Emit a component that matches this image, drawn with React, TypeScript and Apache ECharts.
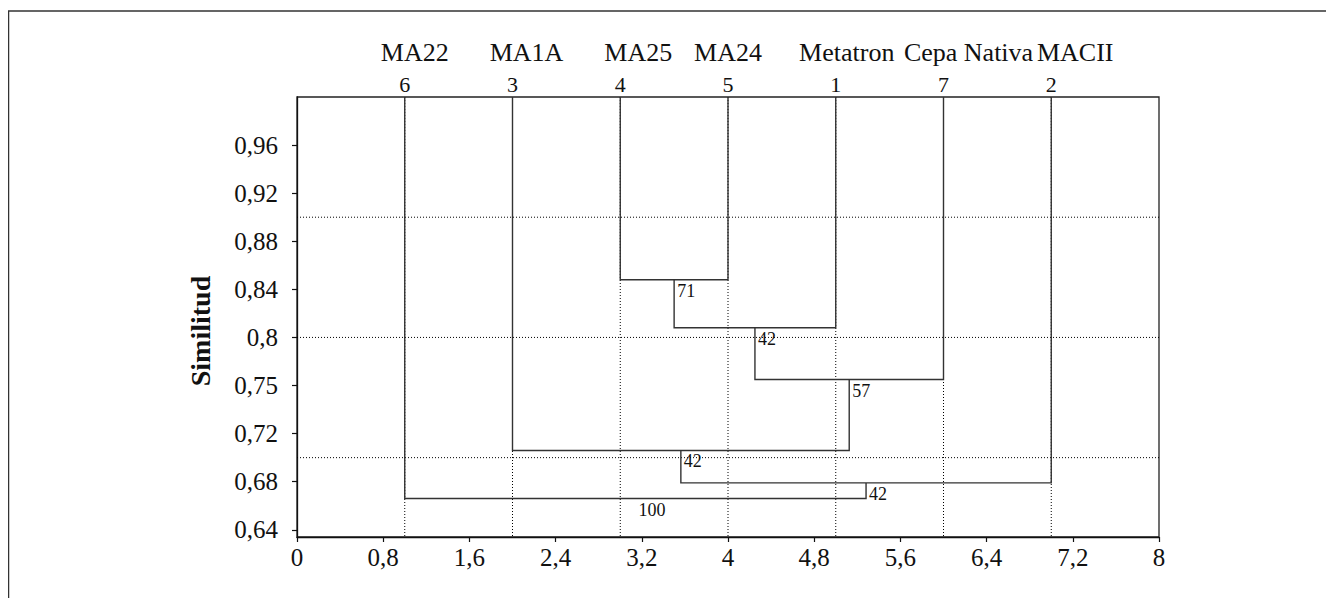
import React, { useEffect, useRef } from 'react';
import * as echarts from 'echarts';

// ---- data ----
const leafNames = ['MA22', 'MA1A', 'MA25', 'MA24', 'Metatron', 'Cepa Nativa', 'MACII'];
const leafNumbers = ['6', '3', '4', '5', '1', '7', '2'];
const leafPositions = [1, 2, 3, 4, 5, 6, 7];
const leafTop = 1.0;

// merges: node indices (leaves 0..6, merges 7..12)
const mergeLeft = [2, 7, 8, 1, 10, 0];
const mergeRight = [3, 4, 5, 9, 6, 11];
const mergeHeights = [0.848, 0.808, 0.765, 0.706, 0.679, 0.666];
const mergeLabels = ['71', '42', '57', '42', '42', '100'];

const cutLevels = [0.7, 0.8, 0.9];

const yTickValues = [0.64, 0.68, 0.72, 0.76, 0.8, 0.84, 0.88, 0.92, 0.96];
const yTickLabels = ['0,64', '0,68', '0,72', '0,75', '0,8', '0,84', '0,88', '0,92', '0,96'];

// ---- layout (px shifts of the names relative to their leaf) ----
const nameShiftPx = [10, 14, 18, 0, 11, 25, 24];

const FONT = '"Liberation Serif", "Times New Roman", serif';
const INK = '#111';

export default function App() {
  const ref = useRef<HTMLDivElement>(null);

  useEffect(() => {
    if (!ref.current) return;
    const chart = echarts.init(ref.current, undefined, { renderer: 'svg' });

    const nodeX: number[] = [...leafPositions];
    const nodeY: number[] = leafPositions.map(() => leafTop);
    mergeLeft.forEach((l, k) => {
      const r = mergeRight[k];
      nodeX.push((nodeX[l] + nodeX[r]) / 2);
      nodeY.push(mergeHeights[k]);
    });
    const dendroData = mergeLeft.map((l, k) => {
      const r = mergeRight[k];
      return [nodeX[l], nodeY[l], nodeX[r], nodeY[r], mergeHeights[k], nodeX[leafPositions.length + k], k];
    });

    const guideData = [
      ...cutLevels.map((v) => [0, v]),
      ...leafPositions.map((x) => [1, x]),
    ];

    const leafData = leafPositions.map((x, i) => [x, leafTop, i]);

    const option: any = {
      animation: false,
      grid: {
        left: 289,
        top: 89,
        width: 862,
        height: 440,
        show: true,
        borderColor: '#222',
        borderWidth: 1.3,
        backgroundColor: 'transparent',
      },
      xAxis: {
        type: 'value',
        min: 0,
        max: 8,
        interval: 0.8,
        axisLine: { show: true, lineStyle: { color: INK, width: 1.3 } },
        axisTick: { show: true, length: 5, lineStyle: { color: INK, width: 1.2 } },
        splitLine: { show: false },
        axisLabel: {
          fontFamily: FONT,
          fontSize: 25,
          color: INK,
          margin: 8,
          formatter: (v: number) => String(+v.toFixed(1)).replace('.', ','),
        },
      },
      yAxis: {
        type: 'value',
        min: 0.634,
        max: 1.0,
        axisLine: { show: true, lineStyle: { color: INK, width: 1.3 } },
        axisTick: { show: true, length: 5, customValues: yTickValues, lineStyle: { color: INK, width: 1.2 } },
        splitLine: { show: false },
        axisLabel: {
          customValues: yTickValues,
          fontFamily: FONT,
          fontSize: 25,
          color: INK,
          margin: 19,
          formatter: (v: number) => {
            const i = yTickValues.findIndex((t) => Math.abs(t - v) < 1e-6);
            return i >= 0 ? yTickLabels[i] : '';
          },
        },
      },
      graphic: [
        {
          type: 'rect',
          shape: { x: 0.5, y: 3, width: 1400, height: 800 },
          style: { fill: 'none', stroke: '#333', lineWidth: 1.5 },
          silent: true,
        },
        {
          type: 'text',
          x: 192,
          y: 323,
          rotation: Math.PI / 2,
          style: {
            text: 'Similitud',
            font: 'bold 28px ' + FONT,
            fill: INK,
            align: 'center',
            verticalAlign: 'middle',
          },
        },
      ],
      series: [
        {
          type: 'custom',
          name: 'guides',
          z: 1,
          silent: true,
          data: guideData,
          encode: { x: -1, y: -1 },
          renderItem: (params: any, api: any) => {
            const kind = api.value(0);
            const v = api.value(1);
            const cs = params.coordSys;
            let shape;
            if (kind === 0) {
              const p = api.coord([0, v]);
              shape = { x1: cs.x, y1: p[1], x2: cs.x + cs.width, y2: p[1] };
            } else {
              const p = api.coord([v, 0.8]);
              shape = { x1: p[0], y1: cs.y, x2: p[0], y2: cs.y + cs.height };
            }
            return {
              type: 'line',
              shape,
              style: { stroke: '#000', lineWidth: 1, lineDash: [1, 2] },
            };
          },
        },
        {
          type: 'custom',
          name: 'dendrogram',
          z: 2,
          silent: true,
          data: dendroData,
          encode: { x: [0, 2, 5], y: [1, 3, 4] },
          renderItem: (params: any, api: any) => {
            const lx = api.value(0);
            const ly = api.value(1);
            const rx = api.value(2);
            const ry = api.value(3);
            const h = api.value(4);
            const nx = api.value(5);
            const k = api.value(6);
            const p1 = api.coord([lx, ly]);
            const p2 = api.coord([lx, h]);
            const p3 = api.coord([rx, h]);
            const p4 = api.coord([rx, ry]);
            const pl = api.coord([nx, h]);
            return {
              type: 'group',
              children: [
                {
                  type: 'polyline',
                  shape: { points: [p1, p2, p3, p4] },
                  style: { stroke: '#333', lineWidth: 1.4, fill: null },
                },
                {
                  type: 'text',
                  x: pl[0] + 3,
                  y: pl[1] + 2,
                  style: {
                    text: mergeLabels[k],
                    fontFamily: FONT,
                    fontSize: 18,
                    fill: INK,
                    align: 'left',
                    verticalAlign: 'top',
                  },
                },
              ],
            };
          },
        },
        {
          type: 'custom',
          name: 'leaves',
          z: 3,
          silent: true,
          clip: false,
          data: leafData,
          encode: { x: 0, y: 1 },
          renderItem: (params: any, api: any) => {
            const i = api.value(2);
            const p = api.coord([api.value(0), api.value(1)]);
            return {
              type: 'group',
              children: [
                {
                  type: 'text',
                  x: p[0],
                  y: p[1] - 13,
                  style: {
                    text: leafNumbers[i],
                    fontFamily: FONT,
                    fontSize: 22,
                    fill: INK,
                    align: 'center',
                    verticalAlign: 'middle',
                  },
                },
                {
                  type: 'text',
                  x: p[0] + nameShiftPx[i],
                  y: p[1] - 45,
                  style: {
                    text: leafNames[i],
                    fontFamily: FONT,
                    fontSize: 26,
                    fill: INK,
                    align: 'center',
                    verticalAlign: 'middle',
                  },
                },
              ],
            };
          },
        },
      ],
    };

    chart.setOption(option);
    return () => chart.dispose();
  }, []);

  return <div ref={ref} style={{ width: 1318, height: 590 }} />;
}
